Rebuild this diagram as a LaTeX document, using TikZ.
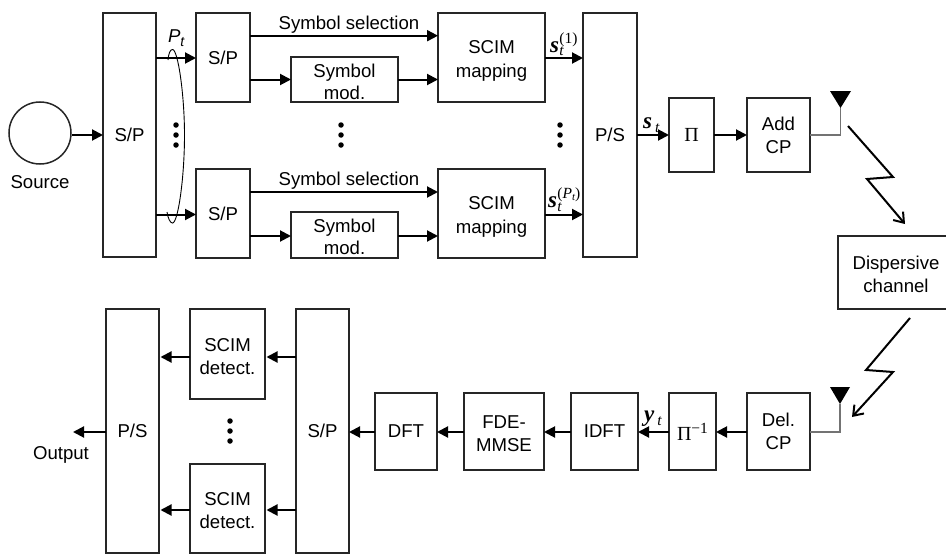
\RequirePackage{fix-cm}
\documentclass[tikz,border=0pt]{standalone}
\usepackage{amsmath}
\usepackage{fontspec}
\setmainfont{Liberation Sans}
\newfontfamily\ser{Liberation Serif}
\usetikzlibrary{arrows.meta}
\newcommand{\bx}[6]{\node[box,minimum width={#3-#2},minimum height={#5-#4},align=center] (#1) at ({(#2+#3)/2},{(#4+#5)/2}) {#6};}
\newcommand{\dna}{\rule{0pt}{17.4pt}}
\newcommand{\dnb}{\rule{0pt}{20.4pt}}
\newcommand{\smf}{\fontsize{15.5}{16}\selectfont}
\newcommand{\ml}[3]{{\ser\fontsize{23}{24}\selectfont\bfseries\itshape #1}{\ser\kern.5pt\rlap{\raisebox{-4pt}{\smf\itshape #2}}\raisebox{9pt}{\smf #3}}}
\tikzset{
  box/.style={draw=black!85,line width=1.5pt,inner sep=0pt,outer sep=0pt},
  arr/.style={line width=2pt,-{Triangle[length=11pt,width=11pt]}},
  feed/.style={draw=black!55,line width=1.5pt},
  bolt/.style={line width=2pt,miter limit=10,-{Straight Barb[length=9pt,width=13pt,line width=2pt]}},
  ant/.style={fill=black,draw=none},
  lbl/.style={inner sep=0pt,outer sep=0pt},
  dotm/.style={circle,fill=black,minimum size=5.5pt,inner sep=0pt},
}
\newcommand{\vdotsat}[3]{\node[dotm] (#1a) at (#2,#3-10) {};\node[dotm] (#1b) at (#2,#3) {};\node[dotm] (#1c) at (#2,#3+10) {};}
\begin{document}
\begin{tikzpicture}[x=1pt,y=-1pt,font=\fontsize{18.6}{22}\selectfont]
\useasboundingbox (0,0) rectangle (946,554);
% top row
\node[draw=black!85,line width=1.5pt,circle,minimum size=62pt,inner sep=0pt] (src) at (40,133) {};
\node[lbl] (srcl) at (40,182) {Source};
\bx{bigsp}{103}{156}{13}{257}{S/P}
\bx{spa}{196}{250}{13}{102}{S/P}
\bx{spb}{196}{250}{169}{258}{S/P}
\bx{moda}{291}{398}{57}{102}{\dna Symbol\\mod.}
\bx{modb}{291}{398}{212}{258}{\dna Symbol\\mod.}
\bx{scima}{438}{545}{13}{102}{\dnb SCIM\\[2pt]mapping}
\bx{scimb}{438}{545}{169}{258}{\dnb SCIM\\[2pt]mapping}
\bx{ps}{583}{637}{13}{257}{P/S}
\bx{pi}{669}{714}{98}{172}{\ser\fontsize{20}{22}\selectfont Π}
\bx{add}{747}{810}{98}{172}{Add\\[1pt]CP}
\bx{chan}{838}{954}{236}{309}{\dna Dispersive\\[1pt]channel}
% bottom row
\bx{del}{747}{810}{393}{470}{Del.\\[1pt]CP}
\bx{pii}{669}{716}{393}{470}{{\ser\fontsize{20}{22}\selectfont Π\raisebox{7pt}{\smf −1}}}
\bx{idft}{571}{638}{393}{470}{IDFT}
\bx{fde}{464}{544}{393}{470}{\dna FDE-\\[1pt]MMSE}
\bx{dft}{375}{437}{393}{470}{DFT}
\bx{spr}{296}{349}{309}{553}{S/P}
\bx{deta}{190}{265}{309}{399}{\dna SCIM\\[1pt]detect.}
\bx{detb}{190}{265}{464}{553}{\dna SCIM\\[1pt]detect.}
\bx{psr}{106}{159}{309}{553}{P/S}
% helper levels
\coordinate (ya) at (0,35.7);
\coordinate (yb) at (0,192);
\coordinate (yc) at (0,58);
\coordinate (yd) at (0,214.5);
\coordinate (ye) at (0,357);
\coordinate (yf) at (0,510);
\coordinate (ym) at (0,432);
\coordinate (yn) at (0,79.5);
\coordinate (yo) at (0,236);
% connectors, top
\draw[arr] (src.east |- bigsp.west) -- (bigsp.west);
\draw[arr] (bigsp.east |- yc) -- (spa.west |- yc);
\draw[arr] (bigsp.east |- yd) -- (spb.west |- yd);
\draw[arr] (spa.east |- ya) -- (scima.west |- ya);
\draw[arr] (spb.east |- yb) -- (scimb.west |- yb);
\draw[arr] (spa.east |- yn) -- (moda.west |- yn);
\draw[arr] (spb.east |- yo) -- (modb.west |- yo);
\draw[arr] (moda.east |- yn) -- (scima.west |- yn);
\draw[arr] (modb.east |- yo) -- (scimb.west |- yo);
\draw[arr] (scima.east |- yc) -- (ps.west |- yc);
\draw[arr] (scimb.east |- yd) -- (ps.west |- yd);
\draw[arr] (ps.east |- pi.west) -- (pi.west);
\draw[arr] (pi.east) -- (add.west);
% connectors, bottom
\draw[arr] (del.west |- ym) -- (pii.east |- ym);
\draw[arr] (pii.west |- ym) -- (idft.east |- ym);
\draw[arr] (idft.west |- ym) -- (fde.east |- ym);
\draw[arr] (fde.west |- ym) -- (dft.east |- ym);
\draw[arr] (dft.west |- ym) -- (spr.east |- ym);
\draw[arr,shorten >=1.5pt] (spr.west |- ye) -- (deta.east |- ye);
\draw[arr,shorten >=1.5pt] (spr.west |- yf) -- (detb.east |- yf);
\draw[arr,shorten >=1.5pt] (deta.west |- ye) -- (psr.east |- ye);
\draw[arr,shorten >=1.5pt] (detb.west |- yf) -- (psr.east |- yf);
\coordinate (outend) at (73,432);
\draw[arr] (psr.west |- outend) -- (outend);
\node[lbl] (outl) at (61,455) {Output};
% texts
\node[lbl] (sela) at (349,25) {Symbol selection};
\node[lbl] (selb) at (349,181) {Symbol selection};
\node[lbl,anchor=base west] (pt) at (168,42) {\itshape P\raisebox{-4pt}{\fontsize{14}{14}\selectfont t}};
\node[lbl,anchor=base west] (s1) at (550,52) {\ml{s}{t}{(1)}};
\node[lbl,anchor=base west] (s2) at (548,207) {\ml{s}{t}{(\textit{P}\raisebox{-2pt}{\fontsize{11}{11}\selectfont\itshape t})}};
\node[lbl,anchor=base west] (st) at (643,128) {\ml{s}{\,t}{}};
\node[lbl,anchor=base west] (yt) at (644,421) {\ml{y}{\,t}{}};
% dots
\vdotsat{da}{176}{135}
\vdotsat{db}{341}{135}
\vdotsat{dc}{560}{135}
\vdotsat{dd}{230}{431}
% bundle arc
\coordinate (e0) at (168,60);
\coordinate (e1) at (172.5,49.5);
\coordinate (e2) at (184.5,135);
\coordinate (e3) at (172.5,223);
\coordinate (e4) at (167,212);
\draw[line width=.9pt] (e0) .. controls (168.5,54) and (170,49.5) .. (e1)
  .. controls (178,49.5) and (184.5,95) .. (e2)
  .. controls (184.5,178) and (178,223) .. (e3)
  .. controls (170,223) and (168,218) .. (e4);
% antennas
\coordinate (ta) at (840.5,108);
\coordinate (tb) at (840,404);
\fill[ant] (830,91) -- (851,91) -- (ta) -- cycle;
\fill[ant] (830,387) -- (850,387) -- (tb) -- cycle;
\draw[feed] (add.east) -| (ta);
\draw[feed] (del.east |- ym) -| (tb);
% lightning
\coordinate (la) at (848,126);
\coordinate (lb) at (905,224);
\coordinate (lc) at (910,318);
\coordinate (ld) at (852,417);
\draw[bolt] (la) -- (893,177) -- (867,179) -- (lb);
\draw[bolt] (lc) -- (866,370) -- (893,372) -- (ld);
\end{tikzpicture}
\end{document}
